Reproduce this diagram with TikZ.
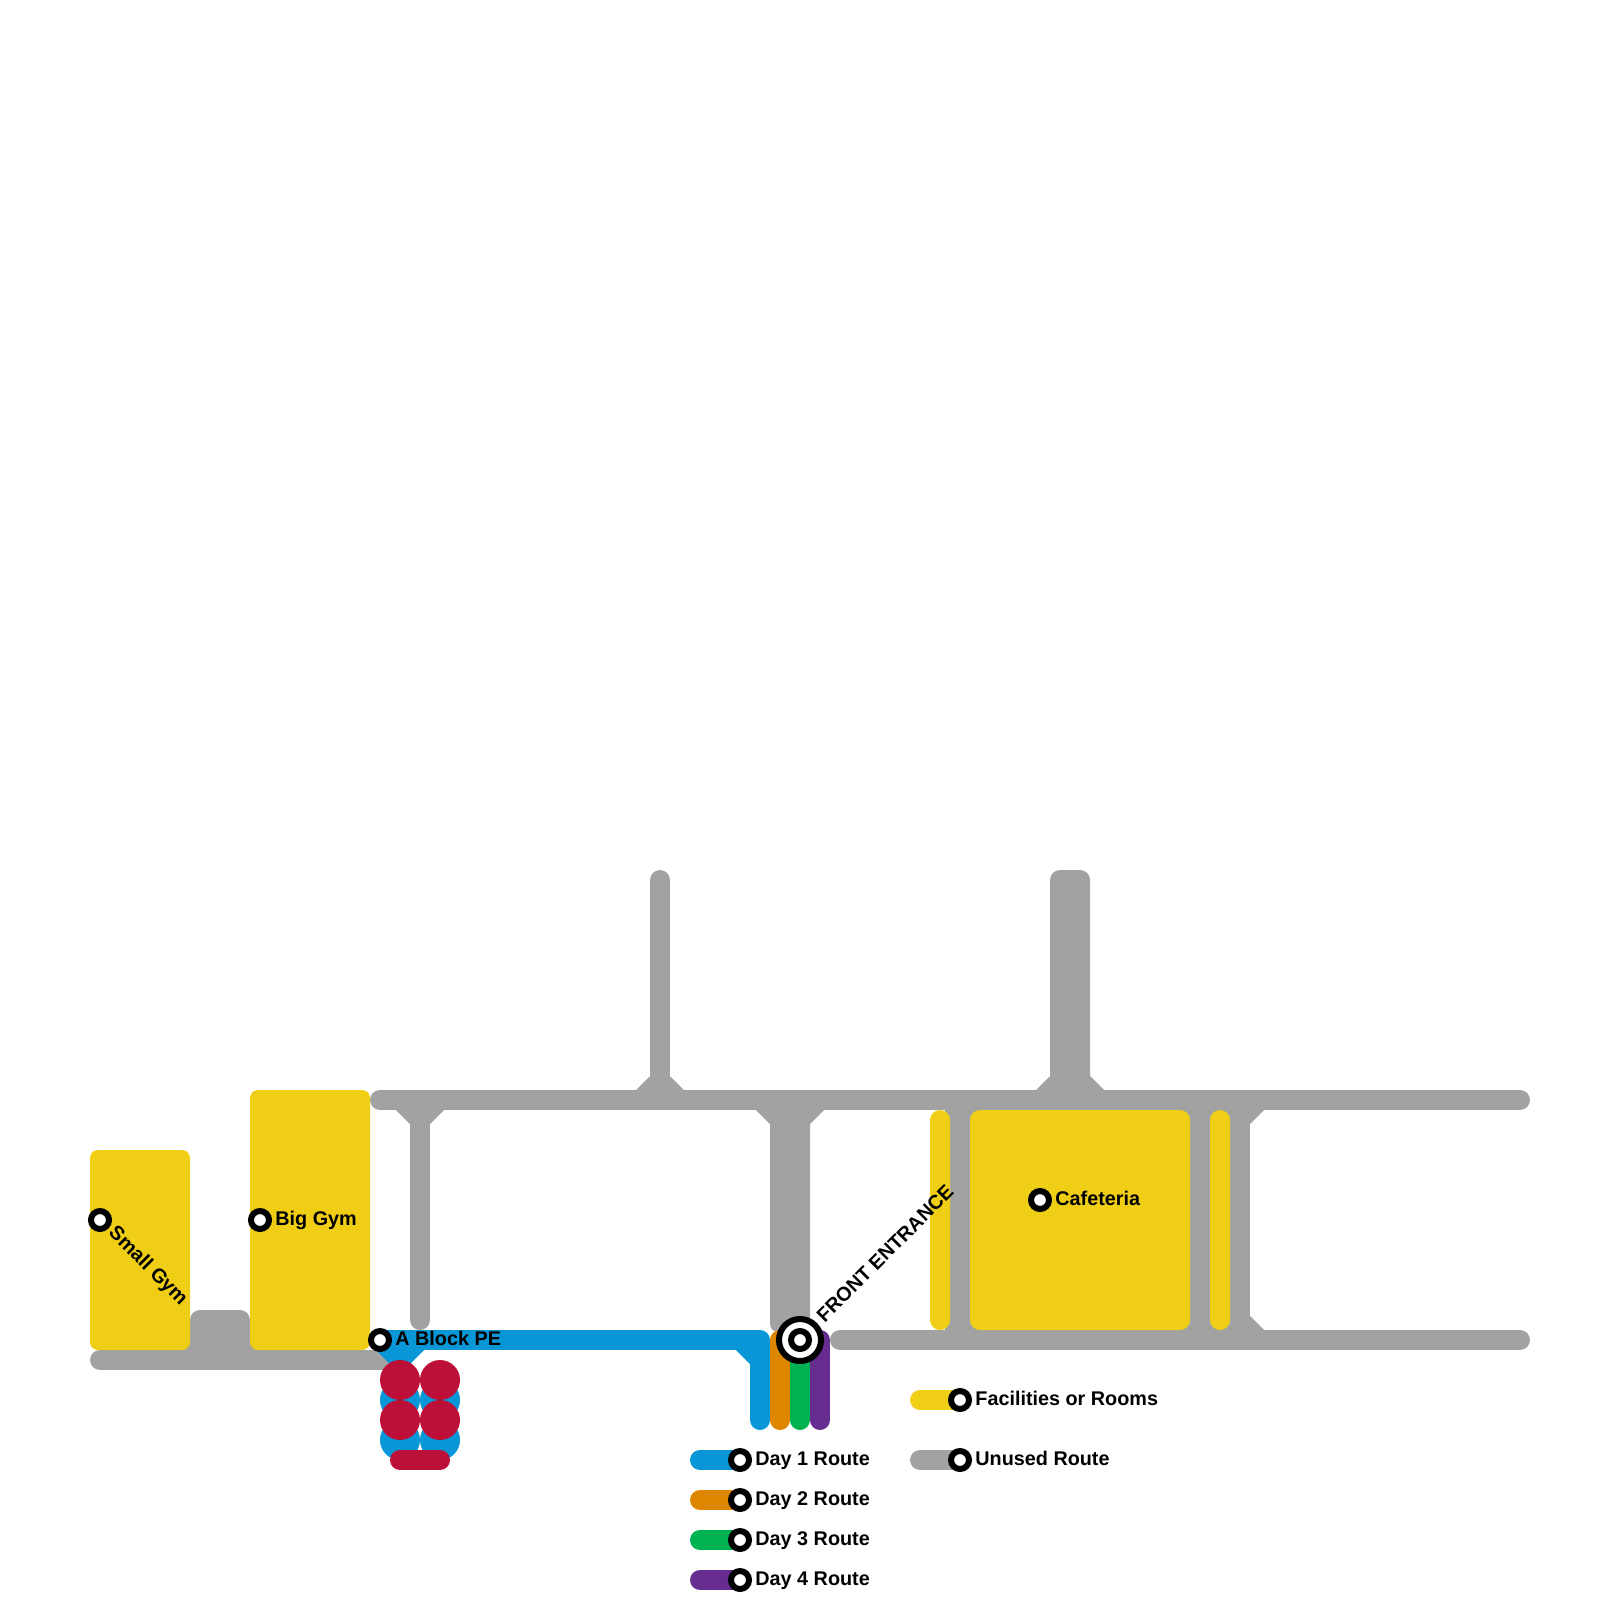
\documentclass[tikz,border=0pt]{standalone}
\usepackage{fontspec}
\setmainfont{Liberation Sans}
\definecolor{myyellow}{HTML}{F0CE15}
\definecolor{mygray}{HTML}{A2A2A2}
\definecolor{myblue}{HTML}{0896D7}
\definecolor{myorange}{HTML}{DF8600}
\definecolor{mygreen}{HTML}{00B251}
\definecolor{mypurple}{HTML}{662C90}
\definecolor{myred}{HTML}{BD1038}
\tikzset{
  route/.style={line width=10pt,line cap=round,line join=round},
  room/.style={fill=myyellow,rounded corners=4pt},
  flare/.style={fill=mygray},
  halt/.style={circle,draw=black,fill=white,line width=3pt,minimum size=9pt,inner sep=0pt},
  hub/.style={circle,draw=black,fill=white,line width=3pt,minimum size=21pt,inner sep=0pt},
  lbl/.style={anchor=base west,inner sep=0pt,font=\fontsize{9.9}{12}\selectfont\bfseries},
}
\begin{document}
\begin{tikzpicture}[x=0.5pt,y=-0.5pt]
\useasboundingbox (0,0) rectangle (1600,1600);
% end points of gray routes
\coordinate (tl) at (380,1100);
\coordinate (tr) at (1520,1100);
\coordinate (bl) at (840,1340);
\coordinate (br) at (1520,1340);
\coordinate (wl) at (100,1360);
\coordinate (wr) at (385,1360);
\coordinate (v1t) at (420,1100);
\coordinate (v1b) at (420,1320);
\coordinate (v2t) at (660,880);
\coordinate (v2b) at (660,1100);
\coordinate (v3t) at (960,1100);
\coordinate (v3b) at (960,1340);
\coordinate (v4t) at (1200,1100);
\coordinate (v4b) at (1200,1340);
\coordinate (v5t) at (1240,1100);
\coordinate (v5b) at (1240,1340);
% gray routes
\draw[route,mygray] (tl) -- (tr);
\draw[route,mygray] (bl) -- (br);
\draw[route,mygray] (wl) -- (wr);
\draw[route,mygray] (v1t) -- (v1b);
\draw[route,mygray] (v2t) -- (v2b);
\draw[route,mygray,line cap=butt] (v3t) -- (v3b);
\draw[route,mygray,line cap=butt] (v4t) -- (v4b);
\draw[route,mygray,line cap=butt] (v5t) -- (v5b);
% wide gray blocks
\fill[mygray,rounded corners=5pt] (1050,1100) -- (1050,870) -- (1090,870) -- (1090,1100) -- cycle;
\fill[mygray,rounded corners=4pt] (770,1100) -- (770,1332) -- (810,1332) -- (810,1100) -- cycle;
\fill[mygray,rounded corners=5pt] (190,1360) -- (190,1310) -- (250,1310) -- (250,1360) -- cycle;
% gray showing behind the corners of the rooms
\fill[mygray] (180,1340) rectangle (260,1355);
\fill[mygray] (960,1105) rectangle (1250,1335);
\fill[mygray] (945,1105) rectangle (960,1335);
% flares at junctions
\fill[flare] (396,1110) -- (410,1124) -- (430,1124) -- (444,1110) -- cycle;
\fill[flare] (636,1090) -- (650,1076) -- (670,1076) -- (684,1090) -- cycle;
\fill[flare] (1036,1090) -- (1050,1076) -- (1090,1076) -- (1104,1090) -- cycle;
\fill[flare] (756,1110) -- (770,1124) -- (810,1124) -- (824,1110) -- cycle;
\fill[flare] (1250,1110) -- (1250,1124) -- (1264,1110) -- cycle;
\fill[flare] (1250,1330) -- (1250,1316) -- (1264,1330) -- cycle;
% rooms
\fill[room] (90,1150) rectangle (190,1350);
\fill[room] (250,1090) rectangle (370,1350);
\fill[room,rounded corners=5pt] (970,1110) rectangle (1190,1330);
\fill[room,rounded corners=5pt] (930,1110) rectangle (950,1330);
\fill[room,rounded corners=5pt] (1210,1110) rectangle (1230,1330);
% day routes
\coordinate (d1s) at (380,1340);
\coordinate (d1c) at (760,1340);
\coordinate (d1e) at (760,1420);
\coordinate (d2s) at (780,1340);
\coordinate (d2e) at (780,1420);
\coordinate (d3s) at (800,1340);
\coordinate (d3e) at (800,1420);
\coordinate (d4s) at (820,1340);
\coordinate (d4e) at (820,1420);
\draw[route,myblue] (d1s) -- (d1c) -- (d1e);
\fill[myblue] (736,1350) -- (750,1350) -- (750,1364) -- cycle;
\fill[myblue] (376,1350) -- (424,1350) -- (400,1374) -- cycle;
\draw[route,myorange] (d2s) -- (d2e);
\draw[route,mygreen] (d3s) -- (d3e);
\draw[route,mypurple] (d4s) -- (d4e);
% blue and red cluster
\fill[myblue] (400,1400) circle[radius=20] (440,1400) circle[radius=20]
              (400,1440) circle[radius=20] (440,1440) circle[radius=20];
\fill[myred] (400,1380) circle[radius=20] (440,1380) circle[radius=20]
             (400,1420) circle[radius=20] (440,1420) circle[radius=20];
\coordinate (rs) at (400,1460);
\coordinate (re) at (440,1460);
\draw[route,myred] (rs) -- (re);
% stations
\node[halt] (small) at (100,1220) {};
\node[halt] (big) at (260,1220) {};
\node[halt] (ablock) at (380,1340) {};
\node[halt] (cafe) at (1040,1200) {};
\node[hub] (front) at (800,1340) {};
\node[halt] (fronti) at (800,1340) {};
% labels
\node[lbl,rotate=-45] (smallt) at (107.5,1233.5) {Small Gym};
\node[lbl] (bigt) at (275,1225) {Big Gym};
\node[lbl] (ablockt) at (395,1345) {A Block PE};
\node[lbl] (cafet) at (1055,1205) {Cafeteria};
\node[lbl,rotate=45] (frontt) at (824.5,1323.5) {FRONT ENTRANCE};
% legend
\foreach \n/\c/\xa/\y/\t in {
  a/myblue/700/1460/Day 1 Route,
  b/myorange/700/1500/Day 2 Route,
  c/mygreen/700/1540/Day 3 Route,
  d/mypurple/700/1580/Day 4 Route,
  e/myyellow/920/1400/Facilities or Rooms,
  f/mygray/920/1460/Unused Route}{
  \coordinate (key\n) at (\xa,\y);
  \coordinate (end\n) at (\xa+40,\y);
  \draw[route,\c] (key\n) -- (end\n);
  \node[halt] (st\n) at (end\n) {};
  \node[lbl] (tx\n) at (\xa+55,\y+5) {\t};
}
\end{tikzpicture}
\end{document}
